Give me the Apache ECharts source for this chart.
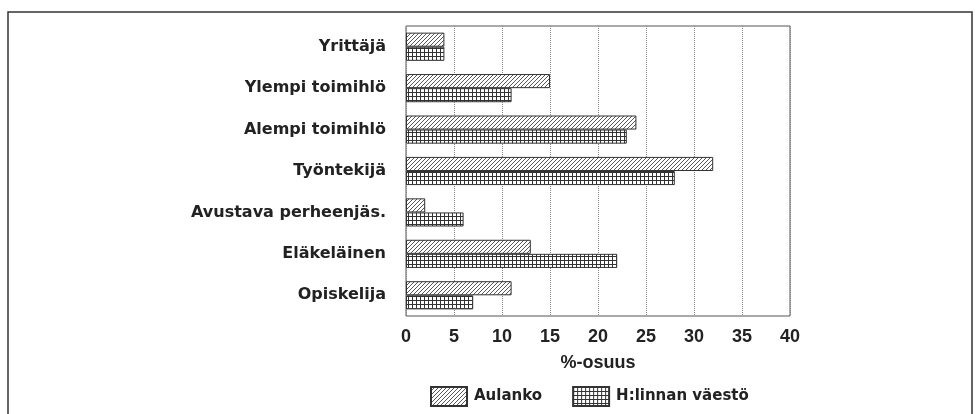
<!DOCTYPE html>
<html>
<head>
<meta charset="utf-8">
<script src="https://cdn.jsdelivr.net/npm/echarts@6/dist/echarts.min.js"></script>
<style>
  html, body { margin: 0; padding: 0; background: #fff; }
  #chart { width: 979px; height: 414px; }
</style>
</head>
<body>
<div id="chart"></div>
<script>
// Ammattiryhmät, ylhäältä alas
const categories = ['Yrittäjä', 'Ylempi toimihlö', 'Alempi toimihlö', 'Työntekijä', 'Avustava perheenjäs.', 'Eläkeläinen', 'Opiskelija']
const aulanko = [4, 15, 24, 32, 2, 13, 11]
const hlinna = [4, 11, 23, 28, 6, 22, 7]
const xTicks = [0, 5, 10, 15, 20, 25, 30, 35, 40]

// vinoviivoitus
const makeHatch = () => {
  const c = document.createElement('canvas')
  c.width = 4
  c.height = 4
  const ctx = c.getContext('2d')
  ctx.fillStyle = '#fff'
  ctx.fillRect(0, 0, 4, 4)
  ctx.strokeStyle = '#444'
  ctx.lineWidth = 0.9
  ctx.beginPath()
  ctx.moveTo(0, 4)
  ctx.lineTo(4, 0)
  ctx.moveTo(-1, 1)
  ctx.lineTo(1, -1)
  ctx.moveTo(3, 5)
  ctx.lineTo(5, 3)
  ctx.stroke()
  return c
}

// ruudutus
const makeGrid = () => {
  const c = document.createElement('canvas')
  c.width = 4
  c.height = 4
  const ctx = c.getContext('2d')
  ctx.fillStyle = '#fff'
  ctx.fillRect(0, 0, 4, 4)
  ctx.fillStyle = '#333'
  ctx.fillRect(0, 0, 4, 1)
  ctx.fillRect(0, 0, 1, 4)
  return c
}

const chart = echarts.init(document.getElementById('chart'))
const font = 'Liberation Sans, Arial, sans-serif'
const wideFont = 'DejaVu Sans, sans-serif'

chart.setOption({
  animation: false,
  textStyle: { fontFamily: font },
  graphic: [{
    type: 'rect',
    shape: { x: 8, y: 12, width: 964, height: 410 },
    style: { fill: 'none', stroke: '#333', lineWidth: 1.5 },
    silent: true
  }],
  grid: {
    left: 406, right: 189, top: 26, bottom: 98,
    show: true, borderColor: '#555', borderWidth: 1
  },
  legend: {
    bottom: 2,
    left: 425,
    icon: 'rect',
    itemWidth: 36,
    itemHeight: 19,
    itemGap: 30,
    textStyle: { fontSize: 15, fontWeight: 'bold', color: '#222', fontFamily: wideFont, padding: [0, 0, 0, 2] },
    data: ['Aulanko', 'H:linnan väestö']
  },
  xAxis: {
    type: 'value',
    min: 0,
    max: 40,
    interval: 5,
    name: '%-osuus',
    nameLocation: 'middle',
    nameGap: 38,
    nameTextStyle: { fontSize: 18, fontWeight: 'bold', color: '#222' },
    axisLine: { show: false },
    axisTick: { show: false },
    axisLabel: { fontSize: 18, fontWeight: 'bold', color: '#222', margin: 12,
      formatter: v => xTicks.includes(v) ? String(v) : '' },
    splitLine: { lineStyle: { type: 'dotted', color: '#888', width: 1 } }
  },
  yAxis: {
    type: 'category',
    inverse: true,
    data: categories,
    axisLine: { show: false },
    axisTick: { show: false },
    axisLabel: { fontSize: 16, fontWeight: 'bold', color: '#222', margin: 20, fontFamily: wideFont }
  },
  series: [
    {
      name: 'Aulanko',
      type: 'bar',
      data: aulanko,
      barGap: '0%',
      barCategoryGap: '32%',
      itemStyle: { color: { image: makeHatch(), repeat: 'repeat' }, borderColor: '#333', borderWidth: 1 }
    },
    {
      name: 'H:linnan väestö',
      type: 'bar',
      data: hlinna,
      itemStyle: { color: { image: makeGrid(), repeat: 'repeat' }, borderColor: '#333', borderWidth: 1 }
    }
  ]
})
</script>
</body>
</html>
